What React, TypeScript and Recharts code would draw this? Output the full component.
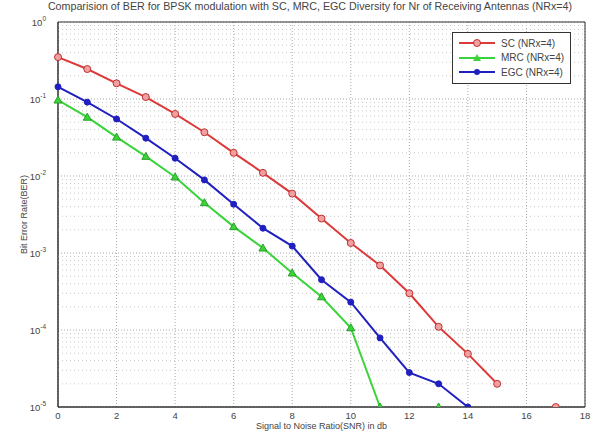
import React from "react";
import {
  LineChart,
  Line,
  XAxis,
  YAxis,
  CartesianGrid,
  Legend,
  ReferenceLine,
  ReferenceArea,
} from "recharts";

const snr = [0, 1, 2, 3, 4, 5, 6, 7, 8, 9, 10, 11, 12, 13, 14, 15, 16, 17];
const sc = [0.35, 0.245, 0.16, 0.106, 0.064, 0.037, 0.02, 0.011, 0.0059, 0.0028, 0.00135, 0.00069, 0.0003, 0.00011, 0.000049, 0.00002, null, 0.00001];
const mrc = [0.097, 0.058, 0.032, 0.018, 0.0097, 0.0045, 0.0022, 0.00116, 0.00055, 0.00027, 0.000107, 0.00001, null, 0.00001, null, null, null, null];
const egc = [0.144, 0.091, 0.055, 0.031, 0.017, 0.0089, 0.0043, 0.0021, 0.00123, 0.00045, 0.00023, 0.000079, 0.000028, 0.00002, 0.00001, null, null, null];

const xTicks = [0, 2, 4, 6, 8, 10, 12, 14, 16, 18];
const yTicks = [1, 0.1, 0.01, 0.001, 0.0001, 0.00001];
const minorSteps = [2, 3, 4, 5, 6, 7, 8, 9];

const seriesNames = ["SC (NRx=4)", "MRC (NRx=4)", "EGC (NRx=4)"];

const data = snr.map((s, i) => ({ snr: s, sc: sc[i], mrc: mrc[i], egc: egc[i] }));
const minorLines = yTicks.slice(1).flatMap((t) => minorSteps.map((m) => m * t));

const RED = "#dd3a3a";
const GREEN = "#3ad43a";
const BLUE = "#2020c0";
const FONT = '"Liberation Sans", Arial, sans-serif';

function YTick(props: any) {
  const { x, y, payload } = props;
  const exp = Math.round(Math.log10(payload.value));
  return (
    <text x={x - 4} y={y + 4} textAnchor="end" fontSize={9.5} fill="#444" fontFamily={FONT}>
      10
      <tspan dy={-5} fontSize={6.5}>
        {exp}
      </tspan>
    </text>
  );
}

function Triangle(props: any) {
  const { cx, cy, key } = props;
  if (cx == null || cy == null) return <g key={key} />;
  return (
    <path
      key={key}
      d={`M${cx},${cy - 4} L${cx + 4},${cy + 3} L${cx - 4},${cy + 3} Z`}
      fill={GREEN}
      stroke="#2aa02a"
      strokeWidth={1}
    />
  );
}

function LegendBox() {
  const items = [
    { name: seriesNames[0], color: RED, marker: "circle" },
    { name: seriesNames[1], color: GREEN, marker: "tri" },
    { name: seriesNames[2], color: BLUE, marker: "dot" },
  ];
  return (
    <div
      style={{
        border: "1px solid #333",
        background: "#fff",
        padding: "3px 6px 3px 4px",
        fontFamily: FONT,
        fontSize: 10,
        color: "#444",
      }}
    >
      {items.map((it) => (
        <div key={it.name} style={{ display: "flex", alignItems: "center", height: 14.5 }}>
          <svg width={40} height={10} style={{ marginRight: 4 }}>
            <line x1={2} y1={5} x2={38} y2={5} stroke={it.color} strokeWidth={2} />
            {it.marker === "circle" && <circle cx={20} cy={5} r={3.5} fill="#f0a0a0" stroke="#c03030" />}
            {it.marker === "tri" && <path d="M20,1 L24,8 L16,8 Z" fill={GREEN} />}
            {it.marker === "dot" && <circle cx={20} cy={5} r={3} fill={BLUE} />}
          </svg>
          <span>{it.name}</span>
        </div>
      ))}
    </div>
  );
}

export default function App() {
  return (
    <div
      style={{
        position: "absolute",
        left: 0,
        top: 0,
        width: 611,
        height: 432,
        background: "#fff",
        fontFamily: FONT,
      }}
    >
      <div
        style={{
          position: "absolute",
          top: 0,
          left: 10,
          width: 600,
          textAlign: "center",
          fontSize: 10.7,
          color: "#444",
          zIndex: 2,
        }}
      >
        Comparision of BER for BPSK modulation with SC, MRC, EGC Diversity for Nr of Receiving Antennas (NRx=4)
      </div>
      <LineChart width={611} height={432} data={data} margin={{ top: 22, right: 26, left: 18, bottom: 0 }}>
        <CartesianGrid stroke="#aaa" strokeDasharray="1 2" />
        {minorLines.map((v) => (
          <ReferenceLine key={v} y={v} stroke="#c8c8c8" strokeDasharray="1 3" ifOverflow="hidden" />
        ))}
        <ReferenceArea x1={0} x2={18} y1={0.00001} y2={1} fill="none" stroke="#333" strokeWidth={1} />
        <XAxis
          dataKey="snr"
          type="number"
          domain={[0, 18]}
          ticks={xTicks}
          tickLine={false}
          tickSize={3}
          tickMargin={2}
          stroke="#333"
          tick={{ fontSize: 9.5, fill: "#444", fontFamily: FONT }}
          height={25}
          label={{ value: "Signal to Noise Ratio(SNR) in db", position: "insideBottom", offset: 3, fontSize: 9, fill: "#444", fontFamily: FONT }}
        />
        <YAxis
          scale="log"
          domain={[0.00001, 1]}
          ticks={yTicks}
          allowDataOverflow
          tickLine={false}
          width={40}
          stroke="#333"
          tick={<YTick />}
          label={{
            value: "Bit Error Rate(BER)",
            angle: -90,
            position: "insideLeft",
            offset: 6,
            fontSize: 9,
            fill: "#444",
            fontFamily: FONT,
            style: { textAnchor: "middle" },
          }}
        />
        <Legend
          layout="vertical"
          align="center"
          verticalAlign="middle"
          wrapperStyle={{ top: 32, left: 452, width: "auto" }}
          content={() => <LegendBox />}
        />
        <Line
          dataKey="sc"
          name={seriesNames[0]}
          stroke={RED}
          strokeWidth={2}
          dot={{ r: 3.5, fill: "#f0a0a0", stroke: "#c03030", strokeWidth: 1 }}
          isAnimationActive={false}
        />
        <Line
          dataKey="mrc"
          name={seriesNames[1]}
          stroke={GREEN}
          strokeWidth={2}
          dot={(p: any) => <Triangle {...p} key={p.key} />}
          isAnimationActive={false}
        />
        <Line
          dataKey="egc"
          name={seriesNames[2]}
          stroke={BLUE}
          strokeWidth={2}
          dot={{ r: 3, fill: BLUE, stroke: BLUE, strokeWidth: 1 }}
          isAnimationActive={false}
        />
      </LineChart>
    </div>
  );
}
